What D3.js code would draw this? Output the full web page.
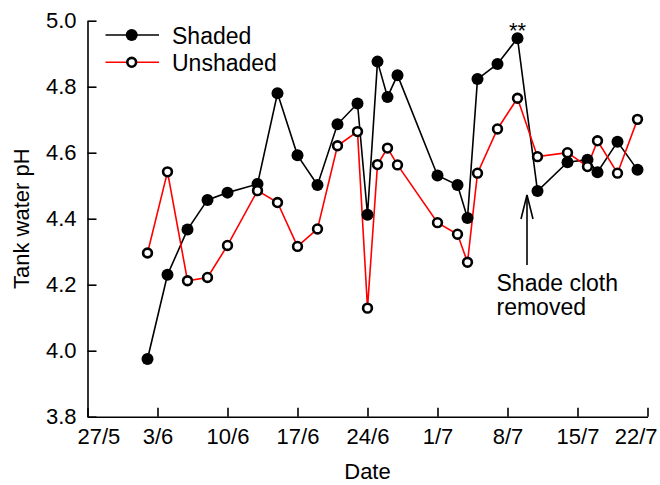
<!DOCTYPE html>
<html>
<head>
<meta charset="utf-8">
<script src="https://cdn.jsdelivr.net/npm/d3@7"></script>
<style>
  html, body { margin: 0; padding: 0; background: #fff; }
  svg { display: block; font-family: "Liberation Sans", Arial, sans-serif; }
</style>
</head>
<body>
<svg id="chart" width="660" height="485"></svg>
<script>
// Sampling dates (day/month) and tank water pH readings
const dates = ["2/6", "4/6", "6/6", "8/6", "10/6", "13/6", "15/6", "17/6", "19/6", "21/6",
               "23/6", "24/6", "25/6", "26/6", "27/6", "1/7", "3/7", "4/7", "5/7", "7/7",
               "9/7", "11/7", "14/7", "16/7", "17/7", "19/7", "21/7"];
const shaded = [3.975, 4.230, 4.367, 4.457, 4.479, 4.505, 4.780, 4.592, 4.502, 4.686,
                4.749, 4.412, 4.876, 4.769, 4.835, 4.531, 4.502, 4.402, 4.823, 4.869,
                4.947, 4.484, 4.571, 4.579, 4.541, 4.633, 4.548];
const unshaded = [4.296, 4.542, 4.212, 4.222, 4.319, 4.485, 4.449, 4.316, 4.369, 4.621,
                  4.664, 4.129, 4.564, 4.614, 4.563, 4.388, 4.353, 4.268, 4.538, 4.672,
                  4.765, 4.588, 4.600, 4.558, 4.636, 4.538, 4.701];
const xTickLabels = ["27/5", "3/6", "10/6", "17/6", "24/6", "1/7", "8/7", "15/7", "22/7"];
const yTicks = [3.8, 4.0, 4.2, 4.4, 4.6, 4.8, 5.0];
const seriesNames = ["Shaded", "Unshaded"];
const annotation = { date: "10/7", lines: ["Shade cloth", "removed"] };
const significance = { date: "9/7", value: 4.947, label: "**" };

const parseDay = s => d3.timeParse("%d/%m/%Y")(s + "/2010");

const svg = d3.select("#chart");
const plotLeft = 87.5, plotRight = 647.5, plotTop = 20.7, plotBottom = 416.7;

const x = d3.scaleTime()
  .domain([parseDay(xTickLabels[0]), parseDay(xTickLabels[xTickLabels.length - 1])])
  .range([plotLeft, plotRight]);
const y = d3.scaleLinear().domain([3.8, 5.0]).range([plotBottom, plotTop]);

// Axes with inward ticks
const xAxis = d3.axisBottom(x)
  .tickValues(xTickLabels.map(parseDay))
  .tickFormat((d, i) => xTickLabels[i])
  .tickSizeInner(-9).tickSizeOuter(0).tickPadding(12);
const yAxis = d3.axisLeft(y)
  .tickValues(yTicks)
  .tickFormat(d3.format(".1f"))
  .tickSizeInner(-9).tickSizeOuter(0).tickPadding(11);

const gx = svg.append("g").attr("transform", `translate(0,${plotBottom})`).call(xAxis);
const gy = svg.append("g").attr("transform", `translate(${plotLeft},0)`).call(yAxis);
[gx, gy].forEach(g => {
  g.selectAll("path, line").attr("stroke", "#000").attr("stroke-width", 1.6);
  g.selectAll("text").attr("fill", "#000").style("font-size", "22px")
    .style("font-family", "'Liberation Sans', Arial, sans-serif");
});
// first and last date labels are pulled inside the frame
gx.selectAll(".tick text").filter((d, i) => i === 0)
  .attr("text-anchor", "start").attr("dx", -10.5);
gx.selectAll(".tick text").filter((d, i) => i === xTickLabels.length - 1)
  .attr("text-anchor", "end").attr("dx", 9.5);

// Axis titles
svg.append("text")
  .attr("x", (plotLeft + plotRight) / 2).attr("y", 479)
  .attr("text-anchor", "middle").style("font-size", "22px").text("Date");
svg.append("text")
  .attr("transform", `translate(29,${(plotTop + plotBottom) / 2}) rotate(-90)`)
  .attr("text-anchor", "middle").style("font-size", "22px").text("Tank water pH");

// Series
const pts = (vals) => dates.map((d, i) => ({ x: x(parseDay(d)), y: y(vals[i]) }));
const line = d3.line().x(d => d.x).y(d => d.y);
const shadedPts = pts(shaded), unshadedPts = pts(unshaded);

svg.append("path").attr("d", line(shadedPts))
  .attr("fill", "none").attr("stroke", "#000").attr("stroke-width", 1.6);
svg.append("path").attr("d", line(unshadedPts))
  .attr("fill", "none").attr("stroke", "#ff0000").attr("stroke-width", 1.6);

svg.append("g").selectAll("circle").data(shadedPts).join("circle")
  .attr("cx", d => d.x).attr("cy", d => d.y).attr("r", 6).attr("fill", "#000");
svg.append("g").selectAll("circle").data(unshadedPts).join("circle")
  .attr("cx", d => d.x).attr("cy", d => d.y).attr("r", 4.4)
  .attr("fill", "#fff").attr("stroke", "#000").attr("stroke-width", 2.6);

// Legend
const legend = [
  { name: seriesNames[0], color: "#000", filled: true, y: 35 },
  { name: seriesNames[1], color: "#ff0000", filled: false, y: 62.3 }
];
legend.forEach(l => {
  svg.append("line").attr("x1", 105.5).attr("x2", 159).attr("y1", l.y).attr("y2", l.y)
    .attr("stroke", l.color).attr("stroke-width", 1.6);
  if (l.filled) {
    svg.append("circle").attr("cx", 131.7).attr("cy", l.y).attr("r", 6).attr("fill", "#000");
  } else {
    svg.append("circle").attr("cx", 131.7).attr("cy", l.y).attr("r", 4.4)
      .attr("fill", "#fff").attr("stroke", "#000").attr("stroke-width", 2.6);
  }
  svg.append("text").attr("x", 172).attr("y", l.y + 8.5)
    .style("font-size", "23px").text(l.name);
});

// Significance marker
svg.append("text")
  .attr("x", x(parseDay(significance.date))).attr("y", y(significance.value) - 0.5)
  .attr("text-anchor", "middle").style("font-size", "22px").text(significance.label);

// Shade cloth removal arrow and note
const ax = x(parseDay(annotation.date)) - 0.5;
const tipY = 195, tailY = 265;
svg.append("line").attr("x1", ax).attr("x2", ax).attr("y1", tipY).attr("y2", tailY)
  .attr("stroke", "#000").attr("stroke-width", 1.6);
svg.append("path")
  .attr("d", `M${ax - 6},${tipY + 24}L${ax},${tipY}L${ax + 6},${tipY + 24}`)
  .attr("fill", "none").attr("stroke", "#000").attr("stroke-width", 1.6);
annotation.lines.forEach((t, i) => {
  svg.append("text").attr("x", 496.5).attr("y", 291 + i * 24.3)
    .style("font-size", "23px").text(t);
});
</script>
</body>
</html>
